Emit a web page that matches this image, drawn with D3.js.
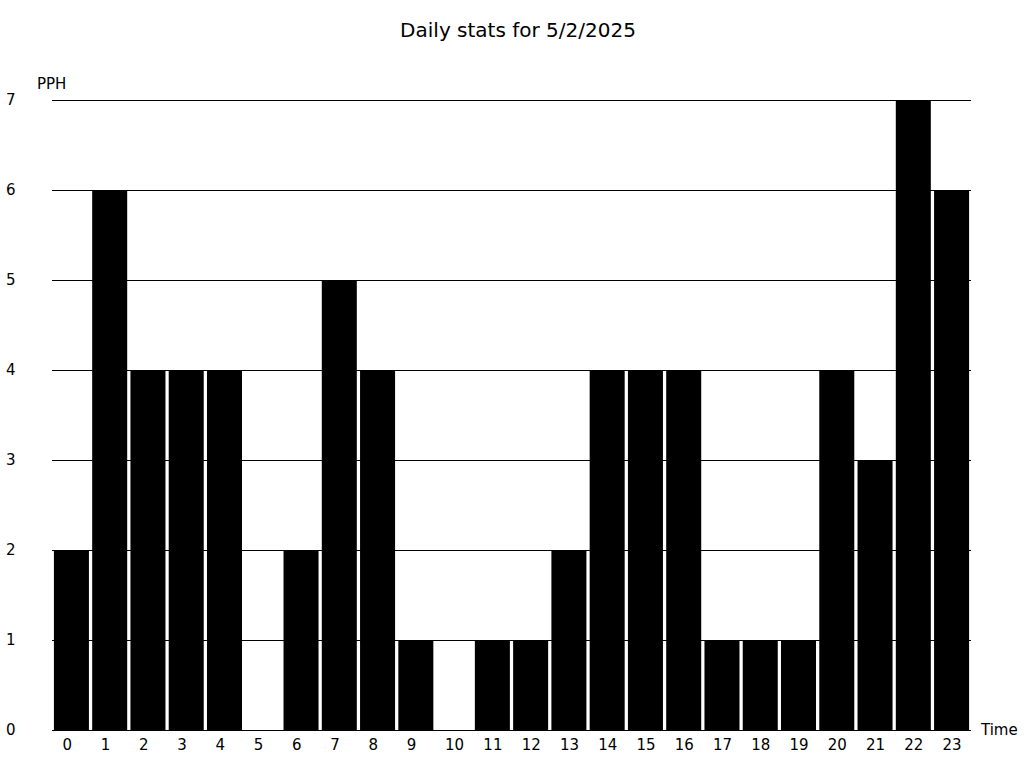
<!DOCTYPE html>
<html><head><meta charset="utf-8">
<script src="https://cdn.jsdelivr.net/npm/d3@7"></script>
<style>body{margin:0;background:#fff}svg{display:block;font-family:"DejaVu Sans",sans-serif}</style>
</head><body>
<script>
const title = "Daily stats for 5/2/2025";
const hours = ["0","1","2","3","4","5","6","7","8","9","10","11","12","13","14","15","16","17","18","19","20","21","22","23"];
const pph = [2,6,4,4,4,0,2,5,4,1,0,1,1,2,4,4,4,1,1,1,4,3,7,6];
const yTicks = [0,1,2,3,4,5,6,7];
const yLabel = "PPH";
const xLabel = "Time";

(function () {
const W = 1024, H = 768;
const mL = 52, mR = 971, mT = 100, mB = 730;
const svg = d3.select("body").append("svg").attr("width", W).attr("height", H);

const x = d3.scaleBand().domain(hours).range([mL, mR]).paddingInner(0.085).paddingOuter(0.05);
const y = d3.scaleLinear().domain([0, 7]).range([mB, mT]);

svg.append("text").attr("x", 518).attr("y", 31).attr("text-anchor", "middle")
  .attr("dominant-baseline", "middle").attr("font-size", 20).text(title);

// bars
svg.append("g").selectAll("rect").data(pph).join("rect")
  .attr("x", (d, i) => x(hours[i])).attr("width", x.bandwidth())
  .attr("y", d => y(d)).attr("height", d => mB - y(d)).attr("fill", "#000");

// grid
svg.append("g").selectAll("line").data(yTicks).join("line")
  .attr("x1", mL).attr("x2", mR).attr("y1", d => y(d)).attr("y2", d => y(d))
  .attr("stroke", "#000").attr("stroke-width", 1).attr("shape-rendering", "crispEdges");

// y labels
svg.append("g").selectAll("text").data(yTicks).join("text")
  .attr("x", 6).attr("y", d => y(d)).attr("text-anchor", "start")
  .attr("dominant-baseline", "middle").attr("font-size", 15).text(d => d);

// x labels
svg.append("g").selectAll("text").data(hours).join("text")
  .attr("x", d => x(d) + 8.5).attr("y", 745).attr("text-anchor", "start")
  .attr("dominant-baseline", "middle").attr("font-size", 15).text(d => d);

svg.append("text").attr("x", 37).attr("y", 84).attr("dominant-baseline", "middle")
  .attr("font-size", 15).text(yLabel);
svg.append("text").attr("x", 981).attr("y", 730).attr("dominant-baseline", "middle")
  .attr("font-size", 15).text(xLabel);
})();
</script>
</body></html>
